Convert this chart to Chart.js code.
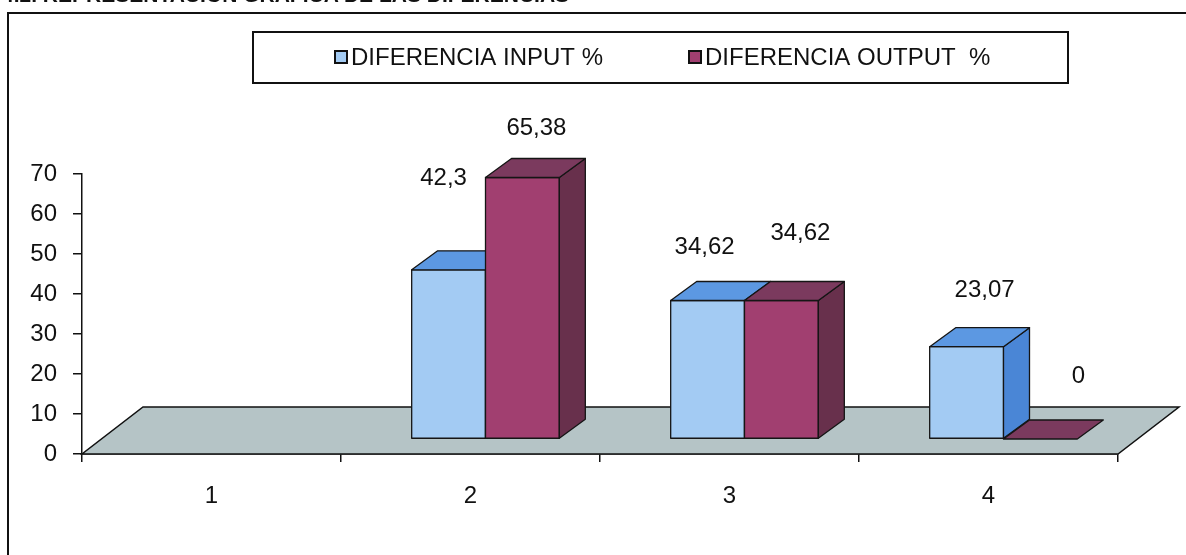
<!DOCTYPE html>
<html>
<head>
<meta charset="utf-8">
<script src="https://cdn.jsdelivr.net/npm/chart.js@4"></script>
<style>
  body { margin: 0; background: #fff; overflow: hidden; }
  #wrap { position: relative; width: 1186px; height: 555px; overflow: hidden; }
  #chart { position: absolute; left: 0; top: 0; }
  #title {
    position: absolute; left: 2px; top: -17px;
    font: bold 21px "Liberation Sans", Arial, sans-serif;
    white-space: nowrap; color: #111;
  }
</style>
</head>
<body>
<div id="wrap">
  <canvas id="chart" width="1186" height="555"></canvas>
  <div id="title">4.2. REPRESENTACION GRAFICA DE LAS DIFERENCIAS</div>
</div>
<script>
const categories = ['1', '2', '3', '4'];
const inputPct = [null, 42.3, 34.62, 23.07];
const outputPct = [null, 65.38, 34.62, 0];
const yTicks = [0, 10, 20, 30, 40, 50, 60, 70];
const seriesNames = ['DIFERENCIA INPUT %', 'DIFERENCIA OUTPUT  %'];

const FONT = '"Liberation Sans", Arial, sans-serif';

// face colours per series: front, top, side
const faces = [
    { front: '#a3cbf3', top: '#5c98e2', side: '#4a86d6' },
    { front: '#a13f70', top: '#7b3a5e', side: '#68304c' }
];

const shift = { x: 15, y: -15 };      // bars stand a bit behind the floor's front edge
const depth = { x: 26, y: -19 };      // depth of each bar
const floorDepth = { x: 61, y: -47 }; // depth of the floor

function poly(ctx, pts, fill) {
    ctx.beginPath();
    ctx.moveTo(pts[0][0], pts[0][1]);
    for (let i = 1; i < pts.length; i++) ctx.lineTo(pts[i][0], pts[i][1]);
    ctx.closePath();
    ctx.fillStyle = fill;
    ctx.fill();
    ctx.stroke();
}

function fmt(v) {
    return String(v).replace('.', ',');
}

const box3d = {
    id: 'box3d',
    beforeDraw(chart) {
        const ctx = chart.ctx;
        ctx.save();
        ctx.fillStyle = '#fff';
        ctx.fillRect(0, 0, chart.width, chart.height);
        // outer frame (runs off the right and bottom edges)
        ctx.strokeStyle = '#111';
        ctx.lineWidth = 2;
        ctx.beginPath();
        ctx.moveTo(8, chart.height + 5);
        ctx.lineTo(8, 13);
        ctx.lineTo(chart.width + 5, 13);
        ctx.stroke();
        ctx.restore();
    },
    beforeDatasetsDraw(chart) {
        const ctx = chart.ctx;
        const a = chart.chartArea;
        ctx.save();
        ctx.strokeStyle = '#111';
        ctx.lineWidth = 1.5;
        poly(ctx, [
            [a.left, a.bottom],
            [a.right, a.bottom],
            [a.right + floorDepth.x, a.bottom + floorDepth.y],
            [a.left + floorDepth.x, a.bottom + floorDepth.y]
        ], '#b5c4c6');
        ctx.restore();
    },
    beforeDatasetDraw() {
        // the bars are drawn as boxes below
        return false;
    },
    afterDatasetsDraw(chart, args, opts) {
        const ctx = chart.ctx;
        ctx.save();
        ctx.strokeStyle = '#151515';
        ctx.lineWidth = 1.3;
        ctx.lineJoin = 'round';
        const labels = [];
        for (let i = 0; i < chart.data.labels.length; i++) {
            chart.data.datasets.forEach((ds, d) => {
                const v = ds.data[i];
                if (v === null || v === undefined) return;
                const el = chart.getDatasetMeta(d).data[i];
                const p = el.getProps(['x', 'y', 'base', 'width'], true);
                const l = p.x - p.width / 2 + shift.x;
                const r = p.x + p.width / 2 + shift.x;
                const t = p.y + shift.y;
                const b = p.base + shift.y;
                const c = faces[d];
                if (b - t > 0.5) {
                    poly(ctx, [[l, t], [r, t], [r, b], [l, b]], c.front);
                    poly(ctx, [[r, t], [r + depth.x, t + depth.y], [r + depth.x, b + depth.y], [r, b]], c.side);
                }
                poly(ctx, [[l, t], [r, t], [r + depth.x, t + depth.y], [l + depth.x, t + depth.y]], c.top);
                const n = opts.nudge[d][i];
                labels.push([fmt(v), (l + r) / 2 + n[0], t + n[1]]);
            });
        }
        ctx.fillStyle = '#111';
        ctx.font = '24px ' + FONT;
        ctx.textAlign = 'center';
        ctx.textBaseline = 'middle';
        labels.forEach(lb => ctx.fillText(lb[0], lb[1], lb[2]));
        ctx.restore();
    },
    afterDraw(chart) {
        // boxed legend
        const ctx = chart.ctx;
        ctx.save();
        ctx.strokeStyle = '#111';
        ctx.lineWidth = 2;
        ctx.strokeRect(253, 32, 815, 51);
        const items = [[335, faces[0].front], [689, faces[1].front]];
        ctx.font = '24px ' + FONT;
        ctx.textBaseline = 'middle';
        ctx.textAlign = 'left';
        chart.data.datasets.forEach((ds, d) => {
            const [x, col] = items[d];
            ctx.fillStyle = col;
            ctx.lineWidth = 2;
            ctx.fillRect(x, 51, 12, 12);
            ctx.strokeRect(x, 51, 12, 12);
            ctx.fillStyle = '#111';
            ctx.fillText(ds.label, x + 16, 58);
        });
        ctx.restore();
    }
};

new Chart(document.getElementById('chart'), {
    type: 'bar',
    data: {
        labels: categories,
        datasets: [
            { label: seriesNames[0], data: inputPct, backgroundColor: faces[0].front },
            { label: seriesNames[1], data: outputPct, backgroundColor: faces[1].front }
        ]
    },
    options: {
        responsive: false,
        animation: false,
        categoryPercentage: 0.57,
        barPercentage: 1.0,
        layout: { padding: { left: 0, right: 68, top: 174, bottom: 0 } },
        plugins: {
            legend: { display: false },
            tooltip: { enabled: false },
            box3d: {
                // label placement relative to the top of each bar's front face
                nudge: [
                    [[0, 0], [-5, -91], [-3, -53], [18, -56]],
                    [[0, 0], [14, -49], [19, -67], [38, -63]]
                ]
            }
        },
        scales: {
            x: {
                grid: { drawOnChartArea: false, tickLength: 8, color: '#111', lineWidth: 1.5 },
                border: { color: '#111', width: 1.5 },
                ticks: { color: '#111', font: { size: 24, family: FONT }, padding: 20 },
                afterFit: s => { s.height = 101; }
            },
            y: {
                min: yTicks[0],
                max: yTicks[yTicks.length - 1],
                grid: { drawOnChartArea: false, tickLength: 9, color: '#111', lineWidth: 1.5 },
                border: { color: '#111', width: 1.5 },
                ticks: { stepSize: yTicks[1] - yTicks[0], color: '#111', font: { size: 24, family: FONT }, padding: 16 },
                afterFit: s => { s.width = 82; }
            }
        }
    },
    plugins: [box3d]
});
</script>
</body>
</html>
